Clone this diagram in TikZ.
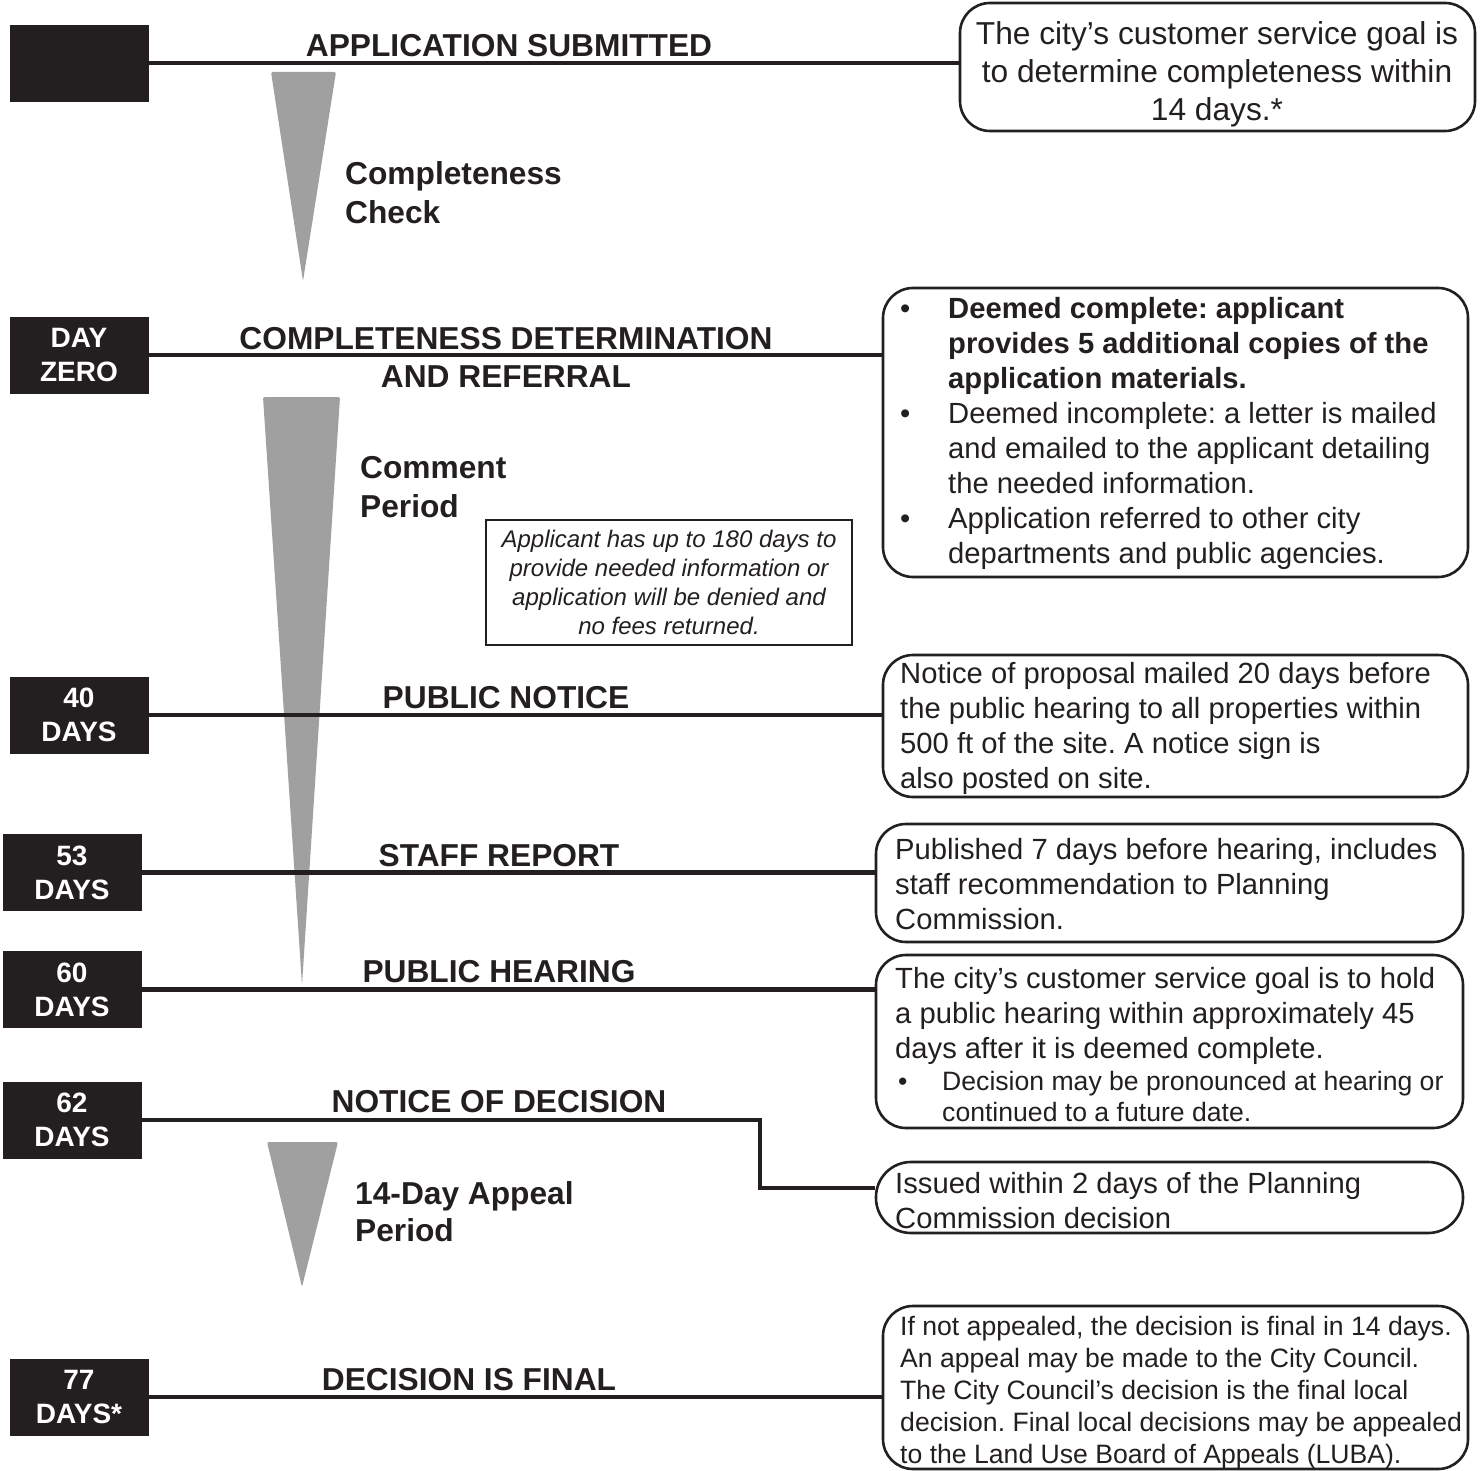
\documentclass[tikz,border=0pt]{standalone}
\usepackage{fontspec}
\setmainfont{Liberation Sans}
\frenchspacing
\definecolor{ink}{HTML}{231F20}
\definecolor{cone}{HTML}{A0A0A0}
\begin{document}
\begin{tikzpicture}[x=1pt,y=-1pt,
  datebox/.style={fill=ink, draw=ink, minimum width=138pt, minimum height=76pt, inner sep=0pt, text=white, font=\fontsize{28}{34}\selectfont\bfseries, align=center},
  hdr/.style={font=\fontsize{31.7}{38}\selectfont\bfseries, text=ink, align=center, inner sep=0pt},
  note/.style={draw=ink, line width=2.6pt, rounded corners=30pt, inner sep=0pt},
  notetext/.style={font=\fontsize{29.2}{35}\selectfont, text=ink, align=left, inner sep=0pt, anchor=west},
  link/.style={draw=ink, line width=4.5pt},
  coneshape/.style={fill=cone, rounded corners=2pt},
  lbl/.style={font=\fontsize{31.7}{39}\selectfont\bfseries, text=ink, align=left, inner sep=0pt, anchor=west}
]
\useasboundingbox (0,0) rectangle (1483,1471);

% cones
\fill[coneshape] (271,72) -- (336,72) -- (303,281) -- cycle;
\fill[coneshape] (263,397) -- (340,397) -- (302,985) -- cycle;
\fill[coneshape] (267,1142) -- (338,1142) -- (302,1287) -- cycle;

% date boxes
\node[datebox] (d1) at (79,63) {};
\node[datebox] (d2) at (79,355) {DAY\\ZERO};
\node[datebox] (d3) at (79,715) {40\\DAYS};
\node[datebox] (d4) at (72,872.5) {53\\DAYS};
\node[datebox] (d5) at (72,989.5) {60\\DAYS};
\node[datebox] (d6) at (72,1120) {62\\DAYS};
\node[datebox] (d7) at (79,1397) {77\\DAYS*};

% note boxes
\node[note, minimum width=515pt, minimum height=128pt] (n1) at (1217.5,67) {};
\node[note, minimum width=585pt, minimum height=289pt] (n2) at (1175.5,432.5) {};
\node[note, minimum width=585pt, minimum height=142pt] (n3) at (1175.5,726) {};
\node[note, minimum width=587pt, minimum height=118pt] (n4) at (1169.5,883) {};
\node[note, minimum width=587pt, minimum height=173pt] (n5) at (1169.5,1041.5) {};
\node[note, minimum width=587pt, minimum height=71pt, rounded corners=35pt] (n6) at (1169.5,1197.5) {};
\node[note, minimum width=585pt, minimum height=163pt] (n7) at (1175.5,1387.5) {};

% note texts
\node[font=\fontsize{31.7}{38}\selectfont, text=ink, align=center, inner sep=0pt] (t1) at (1217,74)
  {The city’s customer service goal is\\to determine completeness within\\14 days.*};
\node[notetext] (t2) at (900,433.5) {%
\makebox[48pt][l]{\textbullet}\textbf{Deemed complete: applicant}\\
\hspace*{48pt}\textbf{provides 5 additional copies of the}\\
\hspace*{48pt}\textbf{application materials.}\\
\makebox[48pt][l]{\textbullet}Deemed incomplete: a letter is mailed\\
\hspace*{48pt}and emailed to the applicant detailing\\
\hspace*{48pt}the needed information.\\
\makebox[48pt][l]{\textbullet}Application referred to other city\\
\hspace*{48pt}departments and public agencies.};
\node[notetext] (t3) at (900,728) {Notice of proposal mailed 20 days before\\the public hearing to all properties within\\500 ft of the site. A notice sign is\\also posted on site.};
\node[notetext] (t4) at (895,884) {Published 7 days before hearing, includes\\staff recommendation to Planning\\Commission.};
\node[notetext] (t5) at (895,1016) {The city’s customer service goal is to hold\\a public hearing within approximately 45\\days after it is deemed complete.};
\node[notetext, font=\fontsize{26.6}{31}\selectfont] (t5b) at (898,1096.5) {%
\makebox[44pt][l]{\textbullet}Decision may be pronounced at hearing or\\
\hspace*{44pt}continued to a future date.};
\node[notetext] (t6) at (895,1200.5) {Issued within 2 days of the Planning\\Commission decision};
\node[notetext, font=\fontsize{26.6}{32}\selectfont] (t7) at (900,1393) {If not appealed, the decision is final in 14 days.\\An appeal may be made to the City Council.\\The City Council’s decision is the final local\\decision. Final local decisions may be appealed\\to the Land Use Board of Appeals (LUBA).};

% italic box
\node[draw=ink, line width=2pt, minimum width=366pt, minimum height=125pt, inner sep=0pt, align=center, text=ink, font=\fontsize{24}{29}\selectfont\itshape] (i1) at (669,582.5)
  {Applicant has up to 180 days to\\provide needed information or\\application will be denied and\\no fees returned.};

% connectors
\coordinate (k6) at (760,1188);
\draw[link] (d1.east) -- (d1.east -| n1.west);
\draw[link] (d2.east) -- (d2.east -| n2.west);
\draw[link] (d3.east) -- (d3.east -| n3.west);
\draw[link] (d4.east) -- (d4.east -| n4.west);
\draw[link] (d5.east) -- (d5.east -| n5.west);
\draw[link] (d6.east) -| (k6) -- (k6 -| n6.west);
\draw[link] (d7.east) -- (d7.east -| n7.west);

% headers
\node[hdr] (h1) at (509,45.5) {APPLICATION SUBMITTED};
\node[hdr] (h2) at (506,357.5) {COMPLETENESS DETERMINATION\\AND REFERRAL};
\node[hdr] (h3) at (506,697.5) {PUBLIC NOTICE};
\node[hdr] (h4) at (499,855.5) {STAFF REPORT};
\node[hdr] (h5) at (499,971.5) {PUBLIC HEARING};
\node[hdr] (h6) at (499,1101.5) {NOTICE OF DECISION};
\node[hdr] (h7) at (469,1379.5) {DECISION IS FINAL};

% period labels
\node[lbl] (l1) at (345,192.5) {Completeness\\Check};
\node[lbl] (l2) at (360,487.5) {Comment\\Period};
\node[lbl, font=\fontsize{31.7}{37}\selectfont\bfseries] (l3) at (355,1211.5) {14-Day Appeal\\Period};
\end{tikzpicture}
\end{document}
